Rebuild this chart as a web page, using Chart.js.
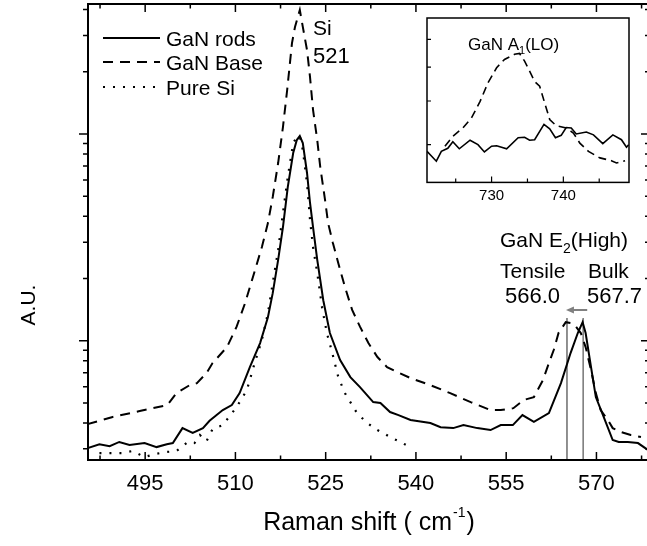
<!DOCTYPE html>
<html><head><meta charset="utf-8">
<script src="https://cdn.jsdelivr.net/npm/chart.js@4/dist/chart.umd.min.js"></script>
<style>
html,body{margin:0;padding:0;overflow:hidden;background:#fff;width:647px;height:546px}
#wrap{position:relative;width:670px;height:546px}
#main{position:absolute;left:0;top:0}
#inset{position:absolute;left:420px;top:12px}
</style></head><body>
<div id="wrap">
<canvas id="main" width="670" height="546"></canvas>
<canvas id="inset" width="216" height="200"></canvas>
</div>
<script>
// ---- main chart data (Raman shift, intensity A.U.) ----
const rodsX = [485.4,487.4,489.1,490.7,492.4,494.9,496.9,498.6,499.6,501.2,502.9,504.6,505.7,507.9,509.4,510.7,512.4,514.1,515.4,516.2,517.1,517.9,518.7,519.6,520.2,520.7,521.2,521.9,522.4,522.9,523.6,524.6,525.7,527.4,529.1,530.7,532.9,534.1,535.7,537.1,539.1,542.4,544.1,546.2,547.9,550.2,552.4,554.1,556.1,557.7,559.6,562.1,564.1,565.7,566.9,567.7,568.2,569.1,569.9,571.2,572.7,573.7,575.2,576.9,578.6];
const rodsY = [30.2,31.6,30.9,32.4,31.3,32.0,30.6,31.6,32.0,37.8,35.8,37.8,41,46.2,48.9,55.8,74.6,97.5,130,170,246,355,554,809,935,978,905,648,464,355,246,157,109,80.7,66.7,59.7,50.5,50.0,45.2,43.7,41.4,40.0,38.2,37.8,39.1,37.8,37.0,39.1,39.1,43.7,40.5,44.7,62.4,87.2,109,123,109,74.6,53.4,42.8,33.1,32.4,32.4,32.0,29.6];
const baseX = [485.4,489.6,494.1,498.7,500.2,502.4,503.6,505.2,506.2,508.6,510.2,511.6,512.9,514.4,515.4,516.2,517.1,517.9,518.6,519.4,519.9,520.7,521.2,521.9,522.4,522.9,523.6,524.1,524.9,525.4,526.2,527.1,528.2,529.4,530.7,532.1,533.6,535.2,536.9,539.1,542.4,545.7,549.1,552.4,554.1,556.2,557.9,559.6,561.1,562.1,562.9,563.7,564.4,564.9,565.7,566.6,567.4,568.2,569.1,569.9,570.7,571.9,572.7,574.1,575.7,577.4];
const baseY = [39.5,42.8,45.7,48.9,55.8,61.0,62.4,69.8,78.0,93.2,117,152,203,284,371,496,724,1081,1633,2754,3296,3981,3296,2547,1887,1307,935,692,479,371,297,237,182,141,117,97.5,83.4,74.6,70.6,66.0,61.0,55.8,50.5,46.2,46.2,47.2,51.7,53.4,64.5,78.0,90.2,109,117,123,122,117,109,93.2,72.2,55.8,46.2,41.4,37.8,36.2,35.0,34.2];
const siX = [487.4,489.4,491.1,492.9,494.9,496.6,498.2,500.2,502.1,503.2,504.1,505.2,506.2,507.9,510.2,511.9,513.2,514.4,515.4,516.2,517.1,517.9,518.7,519.6,520.2,520.7,521.2,521.9,522.4,522.9,523.6,524.4,525.2,526.1,527.1,528.2,530.2,531.9,533.6,534.6,535.7,537.4,539.4];
const siY = [28.6,28.6,28.6,29.3,27.4,28.3,28.9,29.3,32.4,32.0,35.0,32.7,37.4,39.1,47.8,57.7,78.0,101,136,190,275,415,619,905,966,978,837,579,384,284,213,145,109,87.2,66.7,55.8,44.7,40.0,37.0,35.8,34.2,32.4,30.2];

// E2(High) marker lines (Raman shift) and their upper end (intensity)
const markerX = [565.1, 567.8];
const markerTop = 128.8;

// ---- inset data (GaN A1(LO)) ----
const insetRodsX = [721.0,722.3,723.0,723.9,724.6,725.5,727.0,728.1,729.0,730.0,730.7,732.1,733.7,734.6,735.3,736.0,737.3,738.1,738.9,739.7,740.4,741.1,741.8,743.2,744.2,745.5,746.9,748.1,748.8,749.1];
const insetRodsY = [28.7,26.9,28.7,29.3,30.6,29.2,30.9,30.0,28.6,29.7,29.8,29.2,31.4,31.5,30.9,31.0,34.3,33.3,31.4,31.9,33.6,33.5,32.2,32.6,32.0,30.2,32.0,31.0,29.5,30.0];
const insetBaseX = [723.5,724.6,726.0,727.2,728.4,729.5,730.7,731.8,733.2,733.9,734.6,735.3,736.0,736.7,737.4,738.1,739.0,740.4,741.4,742.3,743.5,745.1,746.7,747.4,748.6];
const insetBaseY = [29.7,31.7,33.5,35.8,39.9,45.1,49.8,52.6,54.4,54.7,52.0,48.7,45.5,44.1,39.5,35.4,34.0,33.5,32.4,30.3,28.7,27.5,27.0,26.6,27.0];

// ---- ticks ----
const xMajorTicks = [495,510,525,540,555,570];
const xMinorTicks = [487.5,502.5,517.5,532.5,547.5,562.5,577.5];
const yMajorTicks = [100,1000];
const yMinorTicks = [30,40,50,60,70,80,90,200,300,400,500,600,700,800,900,2000,3000,4000];
const insetXMajor = [730,740];
const insetXMinor = [725,735,745];
const insetYTicks = [30,40,50,60];

const seriesNames = ['GaN rods','GaN Base','Pure Si'];

const FONT = "'Liberation Sans', Arial, Helvetica, sans-serif";
Chart.defaults.font.family = FONT;
Chart.defaults.color = '#000';

const pts = (xs, ys) => xs.map((x, i) => ({x, y: ys[i]}));
const DASH = [10,7];
const DOT = [2,8];

const mainDecor = {
  id: 'mainDecor',
  afterDraw(chart) {
    const {ctx, chartArea: a, scales: {x, y}} = chart;
    ctx.save();
    // frame
    ctx.strokeStyle = '#000';
    ctx.lineWidth = 2;
    ctx.strokeRect(a.left, a.top, a.right - a.left, a.bottom - a.top);
    // ticks
    ctx.lineWidth = 1.5;
    ctx.beginPath();
    const xt = (v, len) => { const p = x.getPixelForValue(v); ctx.moveTo(p, a.bottom); ctx.lineTo(p, a.bottom - len); ctx.moveTo(p, a.top); ctx.lineTo(p, a.top + len); };
    const yt = (v, len) => { const p = y.getPixelForValue(v); ctx.moveTo(a.left, p); ctx.lineTo(a.left - len, p); ctx.moveTo(a.right, p); ctx.lineTo(a.right - len, p); };
    xMajorTicks.forEach(v => xt(v, 8));
    xMinorTicks.forEach(v => xt(v, 4.5));
    yMajorTicks.forEach(v => yt(v, 9));
    yMinorTicks.forEach(v => yt(v, 5));
    ctx.stroke();

    // legend
    const lx0 = 103, lx1 = 160;
    const rows = [38, 62, 87];
    const styles = [[], DASH, DOT];
    ctx.lineWidth = 2;
    rows.forEach((ry, i) => {
      ctx.setLineDash(styles[i]);
      ctx.beginPath(); ctx.moveTo(lx0, ry); ctx.lineTo(lx1, ry); ctx.stroke();
    });
    ctx.setLineDash([]);
    ctx.fillStyle = '#000';
    ctx.font = `21px ${FONT}`;
    ctx.textBaseline = 'alphabetic';
    ctx.textAlign = 'left';
    rows.forEach((ry, i) => ctx.fillText(seriesNames[i], 166, ry + 7.5));

    // Si 521
    ctx.font = `21px ${FONT}`;
    ctx.fillText('Si', 313, 35);
    ctx.font = `22px ${FONT}`;
    ctx.fillText('521', 313, 63);

    // GaN E2(High)
    ctx.font = `21px ${FONT}`;
    let tx = 500;
    ctx.fillText('GaN E', tx, 247); tx += ctx.measureText('GaN E').width;
    ctx.font = `14px ${FONT}`;
    ctx.fillText('2', tx, 253); tx += ctx.measureText('2').width;
    ctx.font = `21px ${FONT}`;
    ctx.fillText('(High)', tx, 247);
    ctx.fillText('Tensile', 500, 278);
    ctx.fillText('Bulk', 588, 278);
    ctx.font = `22px ${FONT}`;
    ctx.fillText('566.0', 505, 303);
    ctx.fillText('567.7', 587, 303);

    // arrow (from bulk line towards tensile line)
    const pT = x.getPixelForValue(markerX[0]);
    const pB = x.getPixelForValue(markerX[1]);
    const ay = 310;
    ctx.strokeStyle = '#808080'; ctx.fillStyle = '#808080';
    ctx.lineWidth = 2;
    ctx.beginPath(); ctx.moveTo(pB + 4, ay); ctx.lineTo(pT + 6, ay); ctx.stroke();
    ctx.beginPath(); ctx.moveTo(pT - 1, ay); ctx.lineTo(pT + 7, ay - 3.5); ctx.lineTo(pT + 7, ay + 3.5); ctx.closePath(); ctx.fill();

    // axis titles
    ctx.fillStyle = '#000';
    const base = 'Raman shift ( cm', sup = '-1', close = ')';
    ctx.font = `25px ${FONT}`;
    const w1 = ctx.measureText(base).width, w3 = ctx.measureText(close).width;
    ctx.font = `14px ${FONT}`;
    const w2 = ctx.measureText(sup).width;
    let sx = (a.left + a.right) / 2 - (w1 + w2 + w3 + 2) / 2;
    ctx.font = `25px ${FONT}`;
    ctx.fillText(base, sx, 530); sx += w1 + 1;
    ctx.font = `14px ${FONT}`;
    ctx.fillText(sup, sx, 517); sx += w2 + 1;
    ctx.font = `25px ${FONT}`;
    ctx.fillText(close, sx, 530);

    ctx.save();
    ctx.translate(35, 305);
    ctx.rotate(-Math.PI / 2);
    ctx.font = `21px ${FONT}`;
    ctx.textAlign = 'center';
    ctx.fillText('A.U.', 0, 0);
    ctx.restore();
    ctx.restore();
  }
};

new Chart(document.getElementById('main'), {
  type: 'line',
  data: {
    datasets: [
      {label: seriesNames[0], data: pts(rodsX, rodsY), borderColor: '#000', borderWidth: 2, pointRadius: 0, tension: 0, fill: false},
      {label: seriesNames[1], data: pts(baseX, baseY), borderColor: '#000', borderWidth: 2, borderDash: DASH, pointRadius: 0, tension: 0, fill: false},
      {label: seriesNames[2], data: pts(siX, siY), borderColor: '#000', borderWidth: 2.2, borderDash: DOT, pointRadius: 0, tension: 0, fill: false},
      {label: 'Tensile 566.0', data: [{x: markerX[0], y: markerTop}, {x: markerX[0], y: 1}], borderColor: '#808080', borderWidth: 1, pointRadius: 0, fill: false},
      {label: 'Bulk 567.7', data: [{x: markerX[1], y: markerTop}, {x: markerX[1], y: 1}], borderColor: '#808080', borderWidth: 1, pointRadius: 0, fill: false}
    ]
  },
  options: {
    responsive: false,
    animation: false,
    layout: {padding: {left: 88, top: 4, right: 20, bottom: 0}},
    plugins: {legend: {display: false}, tooltip: {enabled: false}},
    scales: {
      x: {
        type: 'linear', min: 485.5, max: 578.9,
        afterBuildTicks: s => { s.ticks = [...xMajorTicks, ...xMinorTicks].sort((p, q) => p - q).map(v => ({value: v})); },
        ticks: {callback: v => (xMajorTicks.includes(v) ? String(v) : ''), font: {size: 22}, padding: 11, autoSkip: false, maxRotation: 0, color: '#000'},
        grid: {display: false, drawTicks: false},
        border: {display: false},
        afterFit: s => { s.height = 86; }
      },
      y: {type: 'logarithmic', min: 26.5, max: 4256, display: false}
    }
  },
  plugins: [mainDecor]
});

const insetDecor = {
  id: 'insetDecor',
  afterDraw(chart) {
    const {ctx, chartArea: a, scales: {x, y}} = chart;
    ctx.save();
    ctx.strokeStyle = '#000';
    ctx.lineWidth = 1.5;
    ctx.strokeRect(a.left, a.top, a.right - a.left, a.bottom - a.top);
    ctx.lineWidth = 1.2;
    ctx.beginPath();
    insetXMajor.forEach(v => { const p = x.getPixelForValue(v); ctx.moveTo(p, a.bottom); ctx.lineTo(p, a.bottom - 6); });
    insetXMinor.forEach(v => { const p = x.getPixelForValue(v); ctx.moveTo(p, a.bottom); ctx.lineTo(p, a.bottom - 4); });
    insetYTicks.forEach(v => { const p = y.getPixelForValue(v); ctx.moveTo(a.left, p); ctx.lineTo(a.left + 4, p); });
    ctx.stroke();
    ctx.fillStyle = '#000';
    ctx.textBaseline = 'alphabetic';
    let tx = 48;
    ctx.font = `17px ${FONT}`;
    ctx.fillText('GaN A', tx, 38); tx += ctx.measureText('GaN A').width;
    ctx.font = `11px ${FONT}`;
    ctx.fillText('1', tx, 42); tx += ctx.measureText('1').width;
    ctx.font = `17px ${FONT}`;
    ctx.fillText('(LO)', tx, 38);
    ctx.restore();
  }
};

new Chart(document.getElementById('inset'), {
  type: 'line',
  data: {
    datasets: [
      {label: seriesNames[0], data: pts(insetRodsX, insetRodsY), borderColor: '#000', borderWidth: 1.6, pointRadius: 0, tension: 0, fill: false},
      {label: seriesNames[1], data: pts(insetBaseX, insetBaseY), borderColor: '#000', borderWidth: 1.6, borderDash: [8,5], pointRadius: 0, tension: 0, fill: false}
    ]
  },
  options: {
    responsive: false,
    animation: false,
    layout: {padding: {left: 7, top: 6, right: 7, bottom: 0}},
    plugins: {legend: {display: false}, tooltip: {enabled: false}},
    scales: {
      x: {
        type: 'linear', min: 721, max: 749.15,
        afterBuildTicks: s => { s.ticks = [...insetXMajor, ...insetXMinor].sort((p, q) => p - q).map(v => ({value: v})); },
        ticks: {callback: v => (insetXMajor.includes(v) ? String(v) : ''), font: {size: 15}, padding: 4, autoSkip: false, maxRotation: 0, color: '#000'},
        grid: {display: false, drawTicks: false},
        border: {display: false},
        afterFit: s => { s.height = 29.6; }
      },
      y: {type: 'logarithmic', min: 23.4, max: 69.1, display: false}
    }
  },
  plugins: [insetDecor]
});
</script>
</body></html>
